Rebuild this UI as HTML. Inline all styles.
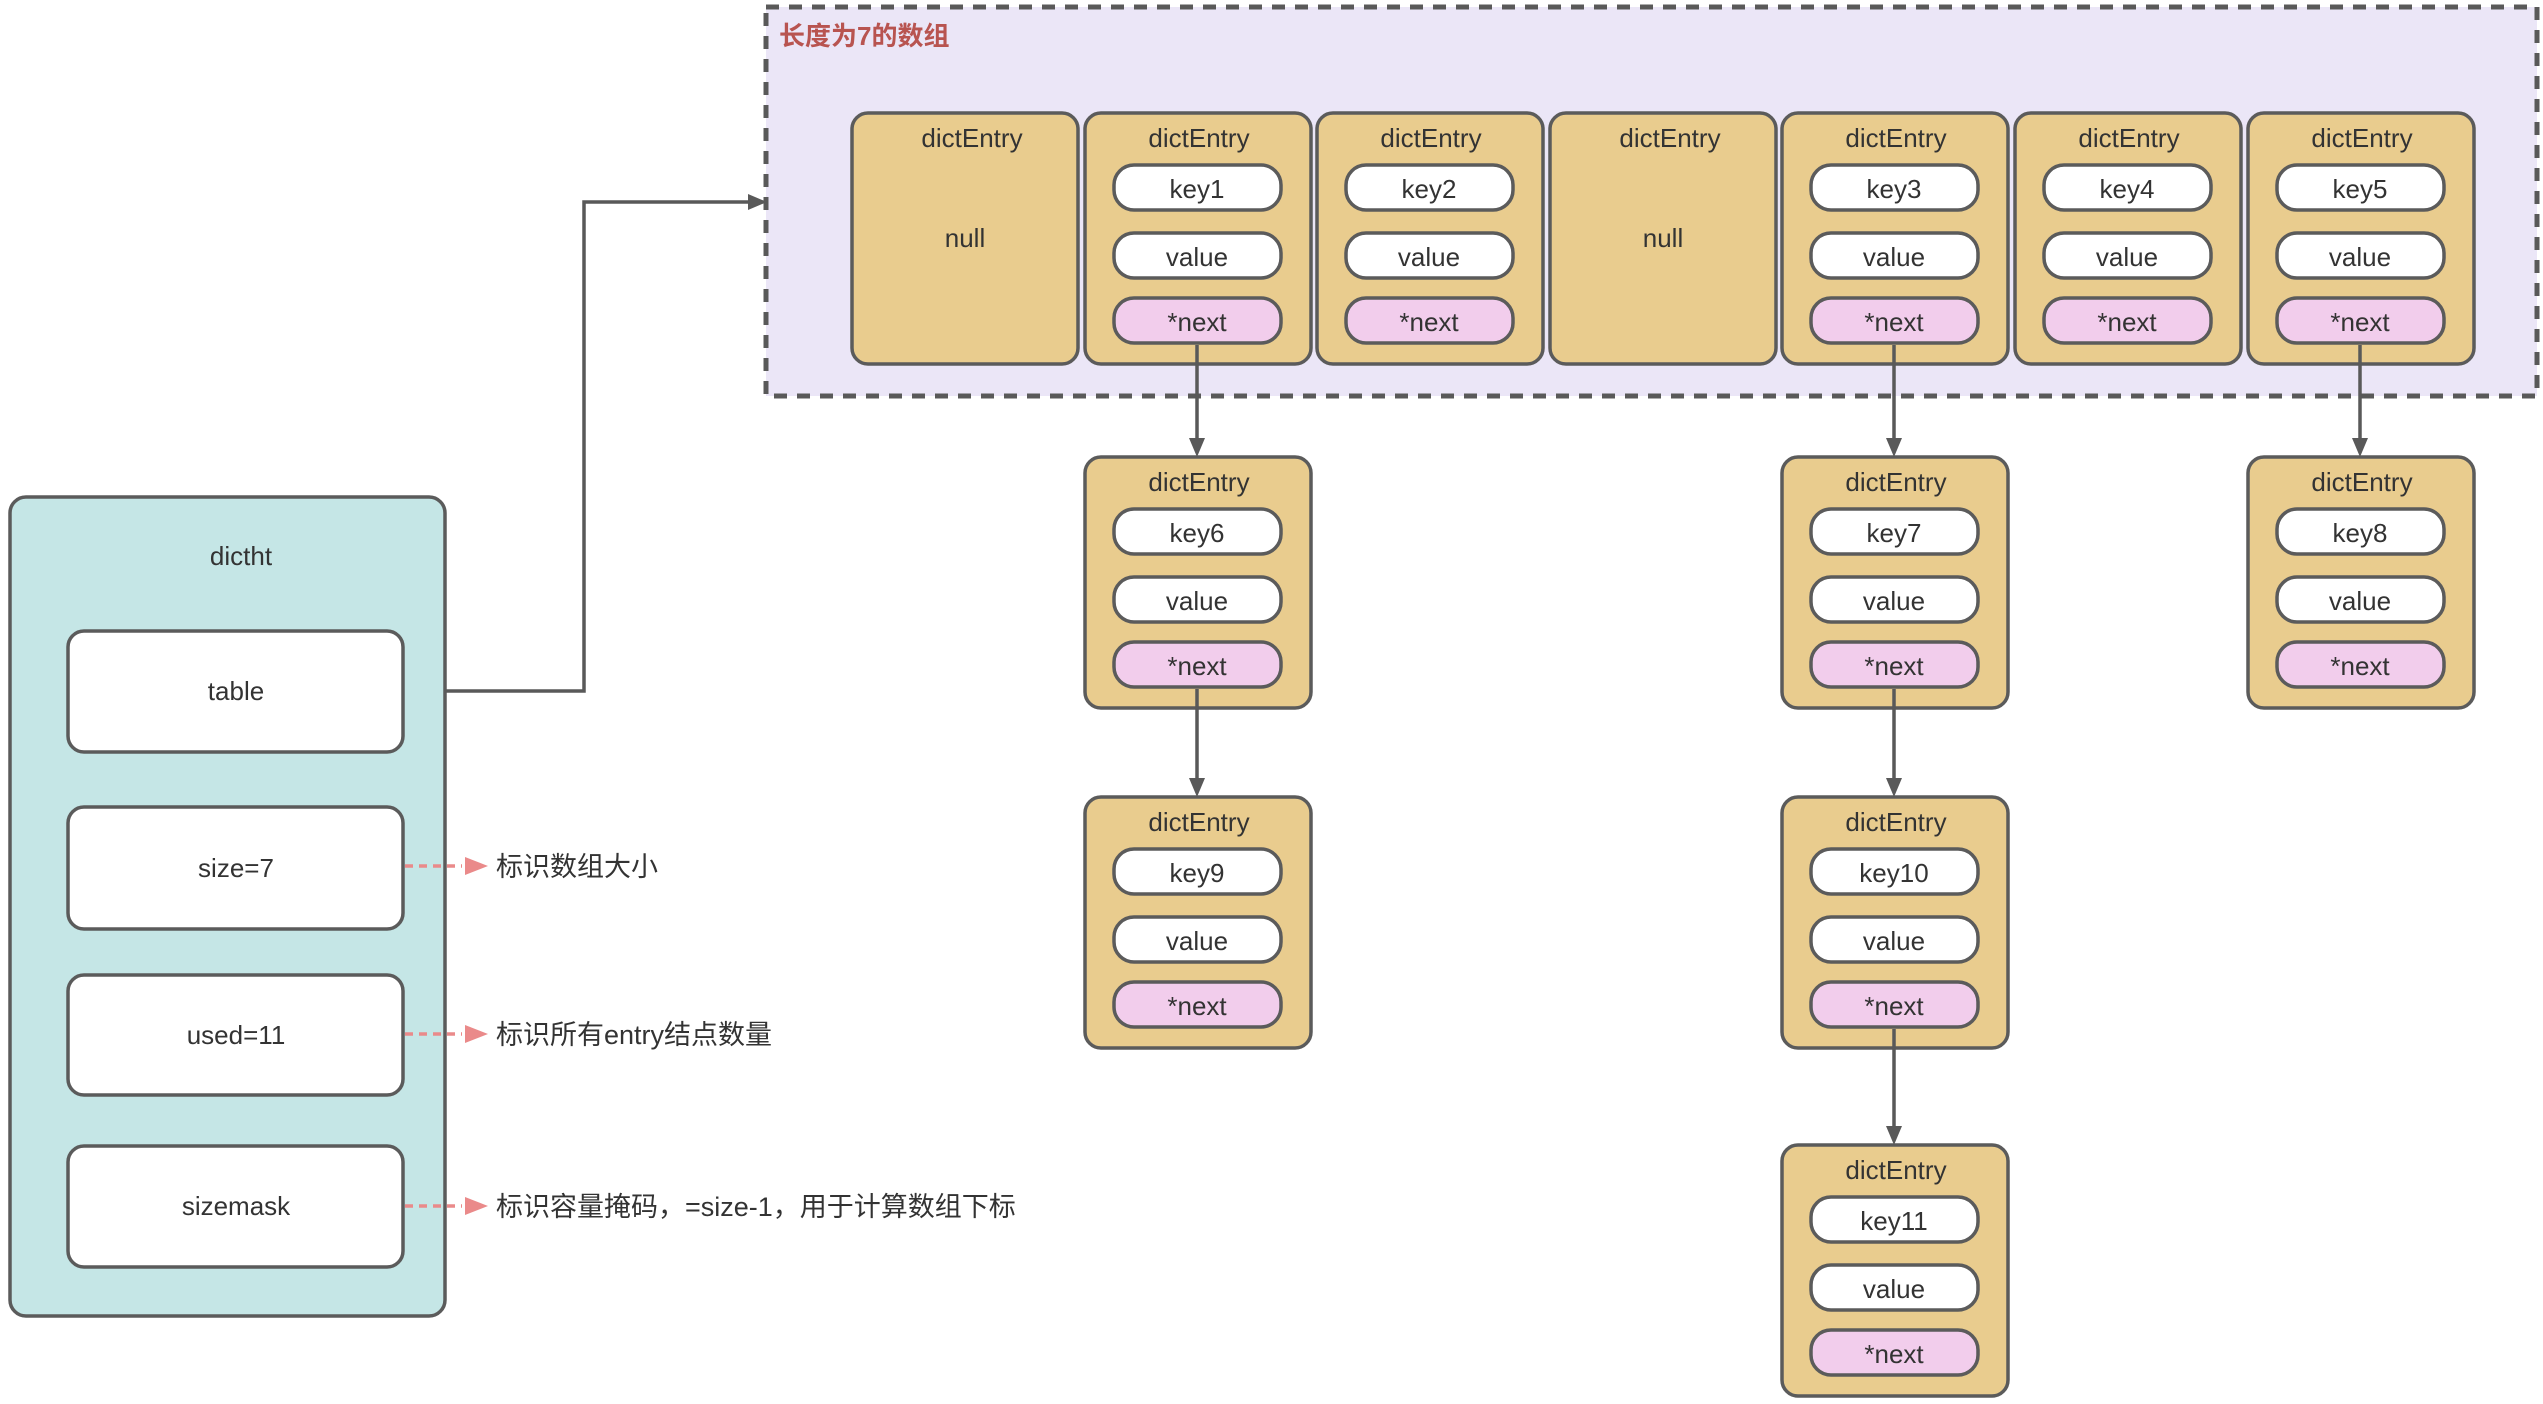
<!DOCTYPE html>
<html><head><meta charset="utf-8"><style>
html,body{margin:0;padding:0;background:#fff;}
svg text{font-family:"Liberation Sans","Noto Sans CJK SC",sans-serif;fill:#333;}
</style></head><body>
<svg width="2543" height="1399" viewBox="0 0 2543 1399" xmlns="http://www.w3.org/2000/svg">
<defs>
<g id="e">
<rect x="0" y="0" width="226" height="251" rx="16" fill="#e9cc8e" stroke="#5b5b5b" stroke-width="3.5"/>
<rect x="29" y="52" width="167" height="45" rx="20" fill="#fff" stroke="#5b5b5b" stroke-width="3.5"/>
<rect x="29" y="120" width="167" height="45" rx="20" fill="#fff" stroke="#5b5b5b" stroke-width="3.5"/>
<rect x="29" y="185" width="167" height="45" rx="20" fill="#f2cdec" stroke="#5b5b5b" stroke-width="3.5"/>
<text x="114" y="34" font-size="26" text-anchor="middle">dictEntry</text>
<text x="112" y="218" font-size="26" text-anchor="middle">*next</text>
<text x="112" y="153" font-size="26" text-anchor="middle">value</text>
</g>
<g id="n">
<rect x="0" y="0" width="226" height="251" rx="16" fill="#e9cc8e" stroke="#5b5b5b" stroke-width="3.5"/>
<text x="120" y="34" font-size="26" text-anchor="middle">dictEntry</text>
<text x="113" y="134" font-size="26" text-anchor="middle">null</text>
</g>
</defs>
<rect x="766" y="7" width="1771" height="389" fill="#ebe6f7" stroke="#595959" stroke-width="5" stroke-dasharray="13 10"/>
<text x="779" y="45" font-size="26" font-weight="bold" style="fill:#b85450">长度为7的数组</text>

<use href="#n" x="852" y="113"/>
<use href="#e" x="1085" y="113"/><text x="1197" y="198" font-size="26" text-anchor="middle">key1</text>
<use href="#e" x="1317" y="113"/><text x="1429" y="198" font-size="26" text-anchor="middle">key2</text>
<use href="#n" x="1550" y="113"/>
<use href="#e" x="1782" y="113"/><text x="1894" y="198" font-size="26" text-anchor="middle">key3</text>
<use href="#e" x="2015" y="113"/><text x="2127" y="198" font-size="26" text-anchor="middle">key4</text>
<use href="#e" x="2248" y="113"/><text x="2360" y="198" font-size="26" text-anchor="middle">key5</text>

<use href="#e" x="1085" y="457"/><text x="1197" y="542" font-size="26" text-anchor="middle">key6</text>
<use href="#e" x="1085" y="797"/><text x="1197" y="882" font-size="26" text-anchor="middle">key9</text>
<use href="#e" x="1782" y="457"/><text x="1894" y="542" font-size="26" text-anchor="middle">key7</text>
<use href="#e" x="1782" y="797"/><text x="1894" y="882" font-size="26" text-anchor="middle">key10</text>
<use href="#e" x="1782" y="1145"/><text x="1894" y="1230" font-size="26" text-anchor="middle">key11</text>
<use href="#e" x="2248" y="457"/><text x="2360" y="542" font-size="26" text-anchor="middle">key8</text>

<g stroke="#595959" stroke-width="3.5" fill="none">
<line x1="1197" y1="345" x2="1197" y2="442"/>
<line x1="1197" y1="689" x2="1197" y2="782"/>
<line x1="1894" y1="345" x2="1894" y2="442"/>
<line x1="1894" y1="689" x2="1894" y2="782"/>
<line x1="1894" y1="1029" x2="1894" y2="1130"/>
<line x1="2360" y1="345" x2="2360" y2="442"/>
<polyline points="403,691 584,691 584,202 752,202"/>
</g>
<g fill="#595959">
<polygon points="1189,438 1205,438 1197,457"/>
<polygon points="1189,778 1205,778 1197,797"/>
<polygon points="1886,438 1902,438 1894,457"/>
<polygon points="1886,778 1902,778 1894,797"/>
<polygon points="1886,1126 1902,1126 1894,1145"/>
<polygon points="2352,438 2368,438 2360,457"/>
<polygon points="748,194 748,210 767,202"/>
</g>

<rect x="10" y="497" width="435" height="819" rx="16" fill="#c5e6e6" stroke="#5b5b5b" stroke-width="3.5"/>
<text x="241" y="565" font-size="26" text-anchor="middle">dictht</text>
<rect x="68" y="631" width="335" height="121" rx="16" fill="#fff" stroke="#5b5b5b" stroke-width="3.5"/>
<rect x="68" y="807" width="335" height="122" rx="16" fill="#fff" stroke="#5b5b5b" stroke-width="3.5"/>
<rect x="68" y="975" width="335" height="120" rx="16" fill="#fff" stroke="#5b5b5b" stroke-width="3.5"/>
<rect x="68" y="1146" width="335" height="121" rx="16" fill="#fff" stroke="#5b5b5b" stroke-width="3.5"/>
<text x="236" y="700" font-size="26" text-anchor="middle">table</text>
<text x="236" y="877" font-size="26" text-anchor="middle">size=7</text>
<text x="236" y="1044" font-size="26" text-anchor="middle">used=11</text>
<text x="236" y="1215" font-size="26" text-anchor="middle">sizemask</text>

<g stroke="#ea8a8a" stroke-width="3.5" stroke-dasharray="8 6">
<line x1="405" y1="866" x2="462" y2="866"/>
<line x1="405" y1="1034" x2="462" y2="1034"/>
<line x1="405" y1="1206" x2="462" y2="1206"/>
</g>
<g fill="#ea8a8a">
<polygon points="465,857 465,875 488,866"/>
<polygon points="465,1025 465,1043 488,1034"/>
<polygon points="465,1197 465,1215 488,1206"/>
</g>
<text x="496" y="876" font-size="27">标识数组大小</text>
<text x="496" y="1044" font-size="27">标识所有entry结点数量</text>
<text x="496" y="1216" font-size="27">标识容量掩码，=size-1，用于计算数组下标</text>
</svg>
</body></html>
